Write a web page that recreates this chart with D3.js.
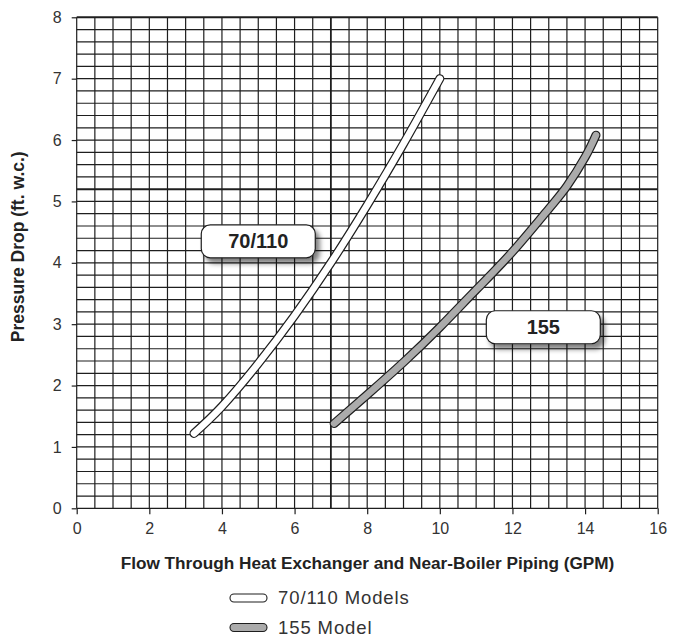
<!DOCTYPE html>
<html><head><meta charset="utf-8">
<script src="https://cdn.jsdelivr.net/npm/d3@7"></script>
<style>
html,body{margin:0;padding:0;background:#fff;}
svg{display:block;font-family:"Liberation Sans",Arial,sans-serif;}
</style></head>
<body>
<svg id="chart" width="679" height="637"></svg>
<script>
// Data
const xTicks = [0, 2, 4, 6, 8, 10, 12, 14, 16];
const yTicks = [0, 1, 2, 3, 4, 5, 6, 7, 8];
const flow70 = [3.23, 4.0, 5.0, 6.0, 7.0, 8.0, 9.0, 10.0];
const drop70 = [1.22, 1.66, 2.36, 3.14, 4.0, 4.94, 5.94, 7.0];
const flow155 = [7.09, 8.0, 9.0, 10.0, 11.0, 12.0, 13.0, 13.5, 14.0, 14.3];
const drop155 = [1.38, 1.85, 2.38, 2.95, 3.56, 4.18, 4.88, 5.25, 5.72, 6.08];
const seriesNames = ["70/110 Models", "155 Model"];
const seriesLabels = ["70/110", "155"];
const labelPos = [[5.0, 4.35], [12.85, 2.95]]; // label box centres in data units
const xTitle = "Flow Through Heat Exchanger and Near-Boiler Piping (GPM)";
const yTitle = "Pressure Drop (ft. w.c.)";

const svg = d3.select("#chart");
const x = d3.scaleLinear().domain([0, 16]).range([76.7, 657.7]);
const y = d3.scaleLinear().domain([0, 8]).range([508.3, 17.3]);
const ink = "#1e1e1e";

const defs = svg.append("defs");
const f = defs.append("filter").attr("id", "shadow").attr("x", "-20%").attr("y", "-30%").attr("width", "150%").attr("height", "180%");
f.append("feGaussianBlur").attr("in", "SourceAlpha").attr("stdDeviation", 2.5).attr("result", "b");
f.append("feOffset").attr("in", "b").attr("dx", 4).attr("dy", 5).attr("result", "o");
f.append("feComponentTransfer").attr("in", "o").attr("result", "s")
  .append("feFuncA").attr("type", "linear").attr("slope", 0.5);
const m = f.append("feMerge");
m.append("feMergeNode").attr("in", "s");
m.append("feMergeNode").attr("in", "SourceGraphic");

// grid
const g = svg.append("g");
const vx = d3.range(0, 16.001, 0.5);
const hy = d3.range(0, 8.001, 0.2).map(v => +v.toFixed(1));
g.selectAll(".vg").data(vx).join("line")
  .attr("x1", d => x(d)).attr("x2", d => x(d))
  .attr("y1", y(0)).attr("y2", y(8))
  .attr("stroke", ink).attr("stroke-width", d => (d === 7 ? 1.8 : 1.2));
g.selectAll(".hg").data(hy).join("line")
  .attr("x1", x(0)).attr("x2", x(16))
  .attr("y1", d => y(d)).attr("y2", d => y(d))
  .attr("stroke", ink).attr("stroke-width", d => (d === 5.2 || d === 8 ? 2 : 1.2));

// axes
const ax = svg.append("g").attr("transform", `translate(0,${y(0)})`)
  .call(d3.axisBottom(x).tickValues(xTicks).tickSize(6).tickSizeOuter(0).tickPadding(8));
const ay = svg.append("g").attr("transform", `translate(${x(0)},0)`)
  .call(d3.axisLeft(y).tickValues(yTicks).tickSize(5).tickSizeOuter(0).tickPadding(10));
[ax, ay].forEach(a => {
  a.select(".domain").remove();
  a.selectAll("line").attr("stroke", ink).attr("stroke-width", 1.2);
  a.selectAll("text").attr("font-size", 16).attr("fill", "#333")
    .attr("font-family", "Liberation Sans, Arial, sans-serif");
});

// curves
const line = d3.line().x(d => x(d[0])).y(d => y(d[1])).curve(d3.curveNatural);
const series = [
  { pts: d3.zip(flow70, drop70), fill: "#ffffff" },
  { pts: d3.zip(flow155, drop155), fill: "#ababab" }
];
series.forEach(s => {
  svg.append("path").attr("d", line(s.pts)).attr("fill", "none")
    .attr("stroke", ink).attr("stroke-width", 9).attr("stroke-linecap", "round").attr("stroke-linejoin", "round");
  svg.append("path").attr("d", line(s.pts)).attr("fill", "none")
    .attr("stroke", s.fill).attr("stroke-width", 6.6).attr("stroke-linecap", "round").attr("stroke-linejoin", "round");
});

// label boxes
seriesLabels.forEach((t, i) => {
  const cx = x(labelPos[i][0]), cy = y(labelPos[i][1]);
  const w = 114, h = 33;
  const lg = svg.append("g");
  lg.append("rect").attr("x", cx - w / 2).attr("y", cy - h / 2).attr("width", w).attr("height", h)
    .attr("rx", 9).attr("fill", "#fff").attr("stroke", ink).attr("stroke-width", 1.2)
    .attr("filter", "url(#shadow)");
  lg.append("text").attr("x", cx).attr("y", cy + 7).attr("text-anchor", "middle")
    .attr("font-size", 20).attr("font-weight", "bold").attr("fill", "#222").text(t);
});

// axis titles
svg.append("text").attr("x", 367.5).attr("y", 569).attr("text-anchor", "middle")
  .attr("font-size", 17.2).attr("font-weight", "bold").attr("fill", "#222").text(xTitle);
svg.append("text").attr("transform", `translate(24,${(y(0) + y(8)) / 2 - 16}) rotate(-90)`)
  .attr("text-anchor", "middle").attr("font-size", 17.5).attr("font-weight", "bold").attr("fill", "#222").text(yTitle);

// legend
const legFills = ["#ffffff", "#ababab"];
seriesNames.forEach((n, i) => {
  const ly = 598 + i * 29.5;
  svg.append("rect").attr("x", 230).attr("y", ly - 4).attr("width", 37).attr("height", 8)
    .attr("rx", 4).attr("fill", legFills[i]).attr("stroke", ink).attr("stroke-width", 1.1);
  svg.append("text").attr("x", 278).attr("y", ly + 6).attr("font-size", 18.5)
    .attr("letter-spacing", 0.9).attr("fill", "#333").text(n);
});
</script>
</body></html>
